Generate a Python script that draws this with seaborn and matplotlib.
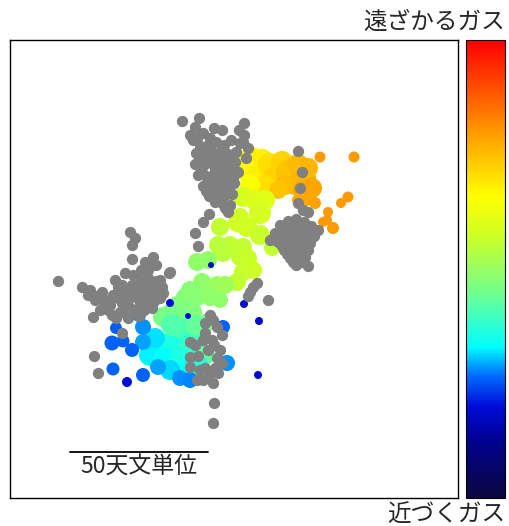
import matplotlib
matplotlib.use("Agg")
import matplotlib.pyplot as plt
from matplotlib.colors import LinearSegmentedColormap
import numpy as np
import pandas as pd
import seaborn as sns

# map readings (grid units, 2.76 units = 1 AU), centre of map at (234, 269)
MAP_CX, MAP_CY, UNITS_PER_AU = 234.0, 269.0, 2.76

# gas with measured velocity: x, y, velocity (km/s), spot radius
gas_x = [320, 354, 348, 341, 328, 327, 323, 333, 315, 307, 298,
         242, 252, 262, 248, 258, 270, 282, 275, 288, 298, 305, 295, 285, 312, 308, 265, 250, 302, 278,
         243, 255, 265, 260, 240, 247, 260, 237, 220, 230, 218, 243, 223, 240, 248, 253, 243, 237, 272, 228,
         197, 208, 202, 217, 225, 190, 185, 197, 210, 177, 170, 183, 193, 220, 163, 177,
         160, 150, 165, 175, 185, 190, 200, 195, 208, 172, 205, 180, 185, 198, 155, 170,
         143, 139, 143, 158, 180, 190, 227, 223, 116, 112, 123, 132, 113, 143, 152,
         127, 170, 244, 259, 258, 211, 188]
gas_y = [157, 157, 197, 203, 212, 220, 222, 228, 203, 200, 200,
         160, 158, 160, 172, 175, 165, 162, 178, 172, 165, 178, 185, 185, 188, 168, 185, 185, 190, 190,
         197, 200, 200, 213, 217, 227, 235, 223, 227, 245, 245, 247, 253, 257, 258, 270, 272, 282, 248, 207,
         262, 260, 282, 285, 285, 290, 297, 297, 297, 305, 313, 310, 312, 300, 317, 315,
         345, 355, 360, 340, 330, 345, 338, 325, 322, 325, 355, 360, 370, 365, 338, 370,
         327, 315, 342, 367, 378, 380, 363, 327, 328, 343, 341, 350, 369, 375, 305,
         382, 303, 304, 321, 375, 265, 316]
gas_vel = [1.20, 1.20, 1.20, 1.20, 1.20, 1.20, 1.20, 1.20, 1.16, 1.12, 1.10,
           0.64, 0.68, 0.72, 0.66, 0.72, 0.80, 0.88, 0.88, 0.96, 1.00, 1.08, 1.04, 1.00, 1.12, 1.04, 0.80, 0.60, 1.12, 0.96,
           0.34, 0.38, 0.42, 0.34, 0.30, 0.30, 0.26, 0.30, 0.22, 0.22, 0.18, 0.22, 0.18, 0.22, 0.26, 0.30, 0.26, 0.22, 0.22, 0.34,
           -0.04, -0.04, -0.04, 0.00, 0.04, -0.08, -0.08, -0.08, -0.04, -0.12, -0.12, -0.12, -0.12, -0.04, -0.16, -0.16,
           -0.64, -0.70, -0.66, -0.56, -0.40, -0.48, -0.36, -0.26, -0.20, -0.34, -0.28, -0.56, -0.62, -0.52, -0.72, -0.74,
           -0.86, -0.92, -0.84, -0.84, -0.86, -0.88, -0.86, -0.96, -0.98, -0.96, -0.96, -0.96, -0.96, -0.96, -1.04,
           -1.20, -1.20, -1.24, -1.24, -1.24, -1.28, -1.20]
gas_r = [5.5, 5.5, 5.5, 5, 5, 5, 5, 6, 6, 6, 6,
         10, 11, 11, 11, 11, 12, 11, 12, 12, 11, 11, 10, 10, 10, 10, 10, 10, 9, 9,
         10, 10, 10, 11, 9, 10, 10, 9, 9, 9, 9, 9, 9, 9, 9, 9, 9, 9, 8, 8,
         9, 9, 9, 9, 9, 9, 9, 9, 9, 9, 9, 9, 9, 8, 10, 10,
         12, 11, 12, 12, 11, 11, 10, 10, 9, 11, 10, 11, 10, 10, 10, 10,
         8, 7, 8, 8, 8, 8, 8, 7, 6, 7.5, 6.5, 7, 6.5, 7, 6,
         5, 4, 4, 4, 4, 3, 3]

# gas without velocity measurement
gray_x = [182, 199, 195, 203, 210, 214, 222, 244, 244, 240, 248, 246, 193, 200, 208, 216, 224, 231,
          196, 204, 212, 220, 228, 236, 195, 203, 211, 219, 227, 235, 198, 206, 214, 222, 230, 238,
          203, 211, 219, 227, 234, 209, 217, 225, 232, 222, 230, 228, 209, 203, 195, 198,
          190, 197, 205, 213, 221, 229, 199, 207, 215, 223, 231, 201, 209, 217, 225, 233,
          206, 214, 222, 229, 215, 225, 239, 243,
          298, 302, 300, 298, 303, 308, 318, 280, 288, 296, 304, 311, 275, 283, 291, 299, 307, 314,
          270, 278, 286, 294, 302, 310, 284, 292, 300, 308, 290, 298, 305, 296, 308,
          284, 292, 300, 308, 279, 287, 295, 303, 311, 282, 290, 298, 306, 287, 295, 303, 293, 301,
          257, 253, 250, 248, 268, 170,
          130, 135, 132, 132, 58, 169, 153, 150, 145, 125, 82, 90, 97, 105, 93, 100, 110, 118, 125,
          132, 140, 148, 156, 162, 133, 141, 118, 128, 138, 146, 154, 120, 130, 140, 150, 160, 112,
          122, 128, 94, 98, 139,
          115, 122, 130, 137, 145, 152, 158, 113, 122, 131, 139, 147, 155, 163, 108, 116, 125, 134,
          144, 152, 160, 148, 156, 102, 88, 95, 104,
          210, 205, 217, 222, 190, 195, 205, 203, 208, 220, 217, 190, 190, 200, 210, 203, 213, 218,
          222, 197, 214, 213,
          213, 212, 198, 205, 215, 208, 214]
gray_y = [121, 118, 127, 133, 138, 128, 130, 123, 135, 143, 148, 158, 140, 146, 145, 142, 145, 140,
          153, 156, 152, 156, 154, 152, 164, 166, 163, 166, 164, 162, 175, 176, 174, 177, 175, 172,
          186, 186, 187, 185, 183, 196, 197, 195, 194, 203, 205, 212, 214, 222, 233, 246,
          135, 138, 150, 158, 151, 160, 158, 160, 169, 170, 168, 170, 180, 181, 180, 178,
          191, 191, 191, 190, 202, 208, 130, 142,
          151, 172, 188, 203, 210, 212, 230, 225, 221, 219, 222, 226, 233, 232, 230, 229, 232, 236,
          240, 242, 241, 240, 240, 243, 250, 250, 250, 250, 258, 258, 257, 265, 266,
          228, 225, 225, 228, 238, 236, 235, 235, 238, 246, 245, 245, 246, 254, 254, 254, 262, 262,
          283, 287, 292, 296, 300, 272,
          232, 238, 245, 259, 281, 273, 257, 266, 262, 273, 287, 290, 296, 300, 317, 310, 305, 298, 292,
          285, 280, 278, 281, 287, 275, 270, 287, 300, 295, 290, 293, 312, 308, 305, 302, 298, 315,
          333, 318, 356, 373, 316,
          280, 285, 292, 288, 284, 286, 292, 295, 303, 296, 300, 297, 300, 293, 310, 318, 313, 312,
          310, 308, 280, 270, 265, 292, 295, 300, 306,
          315, 323, 327, 335, 342, 345, 333, 340, 350, 350, 358, 357, 367, 370, 373, 380, 383, 373,
          363, 380, 403, 423,
          320, 340, 356, 368, 368, 378, 345]

gas = pd.DataFrame({
    "x": (np.array(gas_x) - MAP_CX) / UNITS_PER_AU,
    "y": (MAP_CY - np.array(gas_y)) / UNITS_PER_AU,
    "vel": gas_vel,
    "area": 2.07 * np.array(gas_r) ** 2,
})
gray = pd.DataFrame({
    "x": (np.array(gray_x) - MAP_CX) / UNITS_PER_AU,
    "y": (MAP_CY - np.array(gray_y)) / UNITS_PER_AU,
})

VMIN, VMAX = -2.0, 2.0
vel_cmap = LinearSegmentedColormap.from_list("vel", [
    (0.00, (0.05, 0.03, 0.25)),
    (0.12, (0.00, 0.00, 0.55)),
    (0.20, (0.00, 0.05, 0.85)),
    (0.27, (0.00, 0.45, 1.00)),
    (0.33, (0.00, 1.00, 1.00)),
    (0.45, (0.45, 1.00, 0.55)),
    (0.57, (0.80, 1.00, 0.15)),
    (0.66, (1.00, 1.00, 0.00)),
    (0.80, (1.00, 0.60, 0.00)),
    (1.00, (1.00, 0.00, 0.00)),
])

sns.set_style("white")
plt.rcParams['font.family'] = ['Noto Sans CJK JP', 'DejaVu Sans']

fig = plt.figure(figsize=(5.1, 5.26), dpi=100)
ax = fig.add_axes([10 / 510, 28 / 526, 448 / 510, 458 / 526])
cax = fig.add_axes([466 / 510, 28 / 526, 39 / 510, 458 / 526])

sns.scatterplot(data=gas, x="x", y="y", hue="vel", palette=vel_cmap, hue_norm=(VMIN, VMAX),
                size="area", sizes=(gas["area"].min(), gas["area"].max()),
                size_norm=(gas["area"].min(), gas["area"].max()),
                linewidth=0, legend=False, ax=ax)
sns.scatterplot(data=gray, x="x", y="y", color="#808080", s=66, linewidth=0,
                legend=False, ax=ax)

ax.set_xlim((10 - MAP_CX) / UNITS_PER_AU, (458 - MAP_CX) / UNITS_PER_AU)
ax.set_ylim((MAP_CY - 498) / UNITS_PER_AU, (MAP_CY - 40) / UNITS_PER_AU)
ax.set_xticks([])
ax.set_yticks([])
ax.set_xlabel("")
ax.set_ylabel("")
for sp in ax.spines.values():
    sp.set_color("black")
    sp.set_linewidth(1.0)

# scale bar: 50 AU
bar_x0 = -59.4
bar_y = -66.3
ax.plot([bar_x0, bar_x0 + 50], [bar_y, bar_y], color="black", lw=1.3)
ax.text(bar_x0 + 25, bar_y - 1.2, "50天文単位", ha="center", va="top", fontsize=16.5)

sm = plt.cm.ScalarMappable(cmap=vel_cmap, norm=plt.Normalize(VMIN, VMAX))
cb = fig.colorbar(sm, cax=cax)
cb.set_ticks([])
cb.outline.set_edgecolor("black")

fig.text(0.99, 0.958, "遠ざかるガス", ha="right", va="center", fontsize=17)
fig.text(0.99, 0.021, "近づくガス", ha="right", va="center", fontsize=17)

fig.savefig("out.png", dpi=100)
